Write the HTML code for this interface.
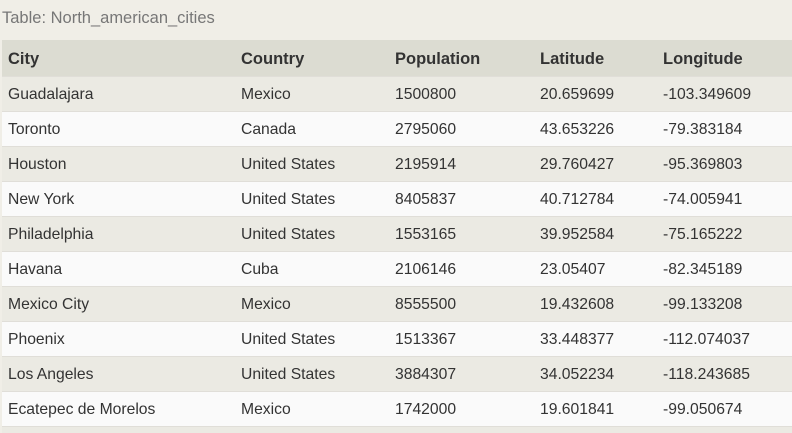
<!DOCTYPE html>
<html><head><meta charset="utf-8"><style>
html,body{margin:0;width:792px;height:433px;overflow:hidden;}
body{background:#f0eee7;font-family:"Liberation Sans",sans-serif;color:#333;position:relative;}
#title{position:absolute;left:2px;top:9px;font-size:16.5px;color:#777;}
.row{position:absolute;left:2px;width:790px;height:35px;border-bottom:1px solid #e0ded8;box-sizing:border-box;}
.row span{position:absolute;top:9px;font-size:15.7px;white-space:nowrap;}
.hdr{top:40px;height:37px;background:#dcdcd2;font-weight:bold;}
.hdr span{top:10px;font-size:16.5px;}
.odd{background:#ebeae3;}.even{background:#fafafa;}
.partial{height:6px;border-bottom:none;}
</style></head><body>
<div id="title">Table: North_american_cities</div>
<div id="tbl"></div>
<script>
const headers=["City","Country","Population","Latitude","Longitude"];
const rows=[
["Guadalajara","Mexico","1500800","20.659699","-103.349609"],
["Toronto","Canada","2795060","43.653226","-79.383184"],
["Houston","United States","2195914","29.760427","-95.369803"],
["New York","United States","8405837","40.712784","-74.005941"],
["Philadelphia","United States","1553165","39.952584","-75.165222"],
["Havana","Cuba","2106146","23.05407","-82.345189"],
["Mexico City","Mexico","8555500","19.432608","-99.133208"],
["Phoenix","United States","1513367","33.448377","-112.074037"],
["Los Angeles","United States","3884307","34.052234","-118.243685"],
["Ecatepec de Morelos","Mexico","1742000","19.601841","-99.050674"]];
const colX=[6,239,393,538,661];
const t=document.getElementById('tbl');
function mk(cls,top,cells,name){
 const r=document.createElement('div');r.className='row '+cls;if(top!==null)r.style.top=top+'px';
 
 
 cells.forEach((c,i)=>{const s=document.createElement('span');s.textContent=c;s.style.left=colX[i]+'px';
  
  
  r.appendChild(s);});
 t.appendChild(r);
}
mk('hdr',null,headers,'header-row');
rows.forEach((r,i)=>mk(i%2?'even':'odd',77+i*35,r,'row-'+(i+1)));
mk('odd partial',427,[],'row-partial');
</script>
</body></html>
